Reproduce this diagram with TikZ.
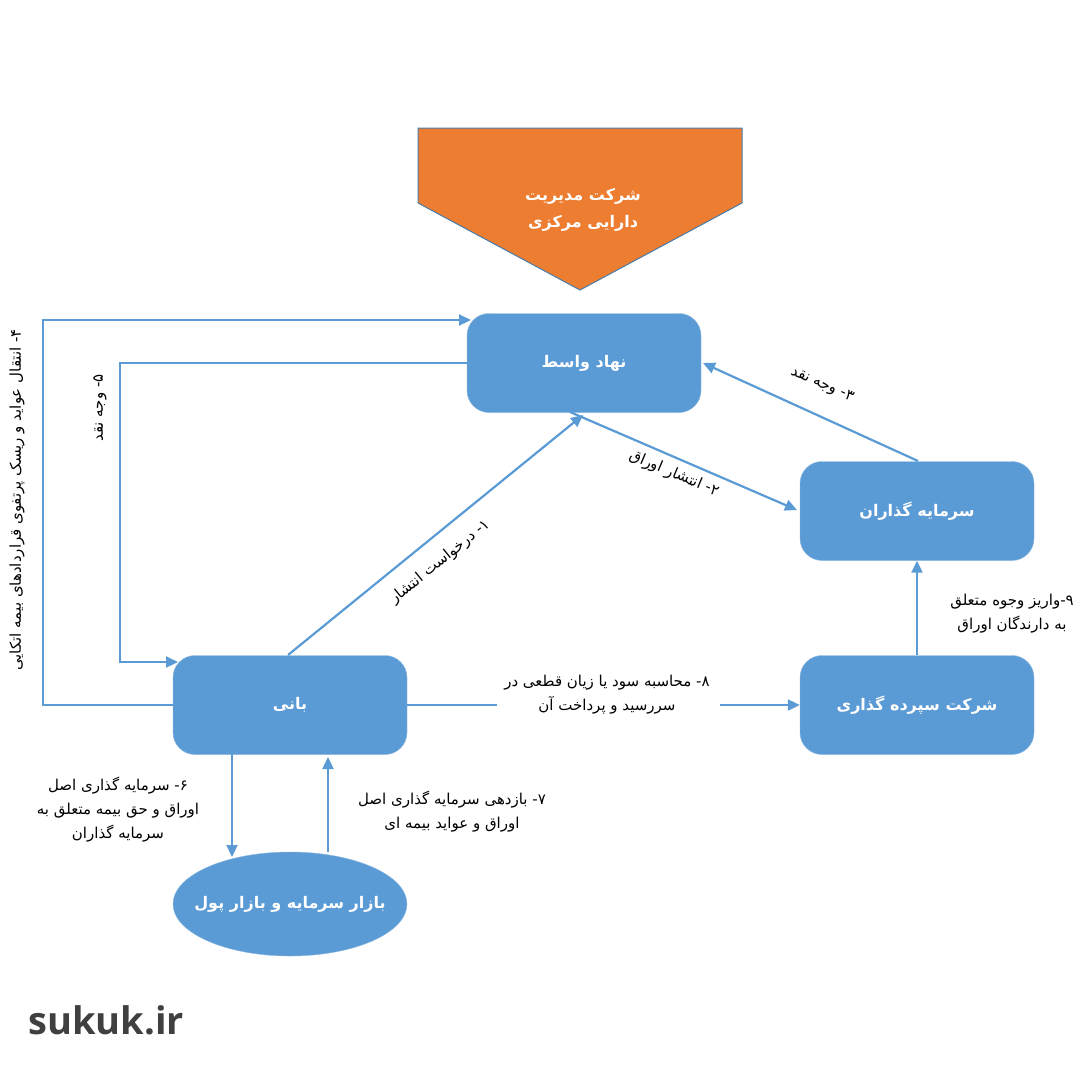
\documentclass[tikz,border=0pt]{standalone}
\usepackage{fontspec}
\usetikzlibrary{arrows.meta,shapes.geometric}
\TeXXeTstate=1
\newfontfamily\arabicfont[Script=Arabic]{DejaVu Sans}
\newcommand{\fa}[1]{{\arabicfont\beginR #1\endR}}
\definecolor{bl}{HTML}{5B9BD5}
\definecolor{og}{HTML}{ED7D31}
\definecolor{dg}{HTML}{404040}
\tikzset{
 box/.style={draw=bl!70!white,fill=bl,rounded corners=22pt,minimum width=234pt,minimum height=99pt,text=white,font=\fontsize{16}{18}\selectfont\bfseries},
 conn/.style={draw=bl,line width=2.2pt,-{Triangle[length=12pt,width=11pt]}},
 lab/.style={font=\fontsize{15}{24}\selectfont,align=center,text=black},
}
\begin{document}
\begin{tikzpicture}[x=1pt,y=-1pt]
\useasboundingbox (0,0) rectangle (1080,1080);
\fill[white] (0,0) rectangle (1080,1080);
% pentagon
\draw[fill=og,draw=bl!80!black,line width=1pt] (418,128) -- (742,128) -- (742,203) -- (580,290) -- (418,203) -- cycle;
\node[lab,text=white,font=\fontsize{16}{27}\selectfont\bfseries] (cm) at (583,210) {\fa{شرکت مدیریت}\\\fa{دارایی مرکزی}};
\node[box] (nv) at (584,363) {\fa{نهاد واسط}};
\node[box] (sg) at (917,511) {\fa{سرمایه گذاران}};
\node[box] (ss) at (917,705) {\fa{شرکت سپرده گذاری}};
\node[box] (bn) at (290,705) {\fa{بانی}};
\node[ellipse,draw=bl!70!white,fill=bl,inner xsep=-22pt,inner ysep=0pt,minimum width=234pt,minimum height=104pt,text=white,font=\fontsize{16}{18}\selectfont\bfseries] (bz) at (290,904) {\fa{بازار سرمایه و بازار پول}};
\node[font=\fontsize{38}{40}\selectfont\bfseries,text=dg,anchor=west] (su) at (25,1020) {\fontspec{Open Sans}sukuk.ir};
% coordinates
\coordinate (b1) at (288,655);
\coordinate (n1) at (583,415);
\coordinate (n2) at (570,412);
\coordinate (s2) at (797,510);
\coordinate (s3) at (918,461);
\coordinate (n3) at (703,363);
\draw[conn] (b1) -- (n1);
\draw[conn] (n2) -- (s2);
\draw[conn] (s3) -- (n3);
\draw[conn] (bn.west) -- (43,705) -- (43,320) -- (471,320);
\draw[conn] (nv.west) -- (120,363) -- (120,662) -- (178,662);
\draw[conn] (232,754) -- (232,857);
\draw[conn] (328,852) -- (328,757);
\coordinate (e8a) at (497,705);
\coordinate (e8b) at (720,705);
\draw[draw=bl,line width=2.2pt] (bn.east) -- (e8a);
\draw[conn] (e8b) -- (ss.west);
\draw[conn] (ss.north) -- (sg.south);
% labels
\node[lab,rotate=39] (l1) at (440,562) {\fa{۱- درخواست انتشار}};
\node[lab,rotate=-23] (l2) at (674,474) {\fa{۲- انتشار اوراق}};
\node[lab,rotate=-24] (l3) at (822,385) {\fa{۳- وجه نقد}};
\node[lab,rotate=90] (l4) at (17,500) {\fa{۴- انتقال عواید و ریسک پرتفوی قراردادهای بیمه اتکایی}};
\node[lab,rotate=90] (l5) at (100,408) {\fa{۵- وجه نقد}};
\node[lab] (l6) at (118,810) {\fa{۶- سرمایه گذاری اصل}\\\fa{اوراق و حق بیمه متعلق به}\\\fa{سرمایه گذاران}};
\node[lab] (l7) at (452,812) {\fa{۷- بازدهی سرمایه گذاری اصل}\\\fa{اوراق و عواید بیمه ای}};
\node[lab] (l8) at (607,695) {\fa{۸- محاسبه سود یا زیان قطعی در}\\\fa{سررسید و پرداخت آن}};
\node[lab] (l9) at (1012,614) {\fa{۹-واریز وجوه متعلق}\\\fa{به دارندگان اوراق}};
\end{tikzpicture}
\end{document}
